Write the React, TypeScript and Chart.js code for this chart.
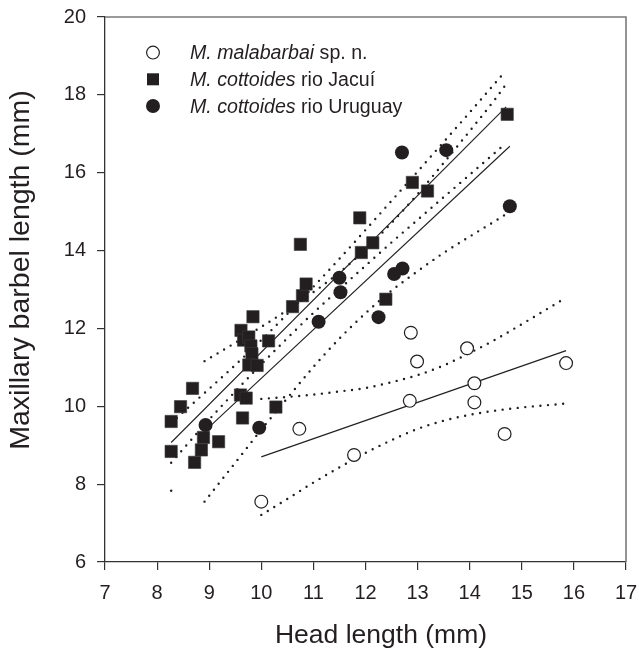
import React, { useEffect, useRef } from 'react';
import { Chart, registerables } from 'chart.js';

Chart.register(...registerables);

const FONT = "'Liberation Sans', Arial, Helvetica, sans-serif";
const INK = '#231f20';

// x axis: head length (mm), y axis: maxillary barbel length (mm)
const xMin = 7;
const xMax = 17;
const yMin = 6;
const yMax = 20;

// M. malabarbai sp. n. (open circles)
const malabarbaiX = [10.0, 10.73, 11.78, 12.87, 12.99, 12.85, 13.95, 14.09, 14.09, 14.67, 15.85];
const malabarbaiY = [7.55, 9.42, 8.75, 11.89, 11.15, 10.14, 11.49, 10.59, 10.1, 9.29, 11.11];

// M. cottoides rio Jacuí (filled squares)
const jacuiX = [
  8.27, 8.27, 8.45, 8.68, 8.72, 8.85, 8.89, 9.18, 9.6, 9.71, 9.64, 10.28, 9.61, 9.66, 9.76, 9.8,
  9.82, 9.76, 9.92, 9.84, 10.14, 10.6, 10.79, 10.86, 10.75, 11.89, 11.92, 12.14, 12.39, 12.9, 13.19, 14.72,
];
const jacuiY = [
  9.61, 8.84, 9.99, 10.46, 8.56, 8.88, 9.2, 9.09, 10.29, 10.21, 9.7, 9.98, 11.95, 11.7, 11.78, 11.55,
  11.35, 11.06, 11.05, 12.3, 11.68, 12.56, 12.84, 13.14, 14.16, 14.84, 13.95, 14.2, 12.75, 15.75, 15.53, 17.5,
];

// M. cottoides rio Uruguay (filled circles)
const uruguayX = [8.93, 9.96, 11.1, 11.5, 11.52, 12.25, 12.55, 12.71, 12.7, 13.55, 14.77];
const uruguayY = [9.52, 9.45, 12.17, 13.3, 12.93, 12.29, 13.4, 13.54, 16.52, 16.58, 15.14];

// fitted lines (solid)
const malFitX = [10.0, 15.85];
const malFitY = [8.7, 11.43];
const jacuiFitX = [8.27, 14.7];
const jacuiFitY = [9.07, 17.69];
const uruguayFitX = [8.93, 14.77];
const uruguayFitY = [9.38, 16.68];

// confidence bands (dotted)
const malBandX = [10.0, 10.5, 11.0, 11.5, 12.0, 12.5, 13.0, 13.5, 14.0, 14.5, 15.0, 15.5, 15.85];
const malUpperY = [10.19, 10.24, 10.3, 10.38, 10.47, 10.62, 10.8, 11.05, 11.37, 11.72, 12.11, 12.51, 12.79];
const malLowerY = [7.21, 7.62, 8.04, 8.43, 8.8, 9.13, 9.42, 9.63, 9.78, 9.89, 9.97, 10.03, 10.07];

const jacuiBandX = [8.27, 9.0, 9.5, 10.0, 10.5, 11.0, 11.5, 12.0, 12.5, 13.0, 13.5, 14.0, 14.68];
const jacuiUpperY = [9.57, 10.45, 11.06, 11.7, 12.37, 13.07, 13.79, 14.53, 15.28, 16.03, 16.79, 17.55, 18.6];
const jacuiLowerY = [8.55, 9.66, 10.38, 11.08, 11.75, 12.4, 13.01, 13.61, 14.21, 14.79, 15.37, 15.95, 16.74];

const uruguayBandX = [8.91, 9.5, 10.0, 10.5, 11.0, 11.5, 12.0, 12.5, 13.0, 13.5, 14.0, 14.5, 14.69];
const uruguayUpperY = [11.16, 11.63, 12.04, 12.47, 12.93, 13.44, 14.03, 14.71, 15.45, 16.25, 17.07, 17.91, 18.26];
const uruguayLowerY = [7.55, 8.55, 9.4, 10.21, 11.01, 11.74, 12.39, 12.97, 13.47, 13.94, 14.36, 14.77, 14.93];

const strayDotX = [8.27];
const strayDotY = [7.83];

// legend text
const legendItalic = ['M. malabarbai', 'M. cottoides', 'M. cottoides'];
const legendRest = [' sp. n.', ' rio Jacuí', ' rio Uruguay'];

const xTitle = 'Head length (mm)';
const yTitle = 'Maxillary barbel length (mm)';

const pts = (xs: number[], ys: number[]) => xs.map((x, i) => ({ x, y: ys[i] }));

const solid = (xs: number[], ys: number[]) => ({
  data: pts(xs, ys),
  showLine: true,
  pointRadius: 0,
  borderColor: INK,
  borderWidth: 1.1,
  order: 2,
});

const dotted = (xs: number[], ys: number[]) => ({
  data: pts(xs, ys),
  showLine: true,
  pointRadius: 0,
  borderColor: INK,
  borderWidth: 2.4,
  borderDash: [0, 7.6],
  borderCapStyle: 'round',
  cubicInterpolationMode: 'monotone',
  order: 2,
});

const decorPlugin = {
  id: 'decor',
  afterDraw(chart: any) {
    const { ctx, chartArea } = chart;
    ctx.save();
    // top and right frame
    ctx.strokeStyle = '#7a7a7a';
    ctx.lineWidth = 1.6;
    ctx.beginPath();
    ctx.moveTo(chartArea.left, chartArea.top);
    ctx.lineTo(chartArea.right, chartArea.top);
    ctx.lineTo(chartArea.right, chartArea.bottom);
    ctx.stroke();

    // legend
    for (let i = 0; i < 3; i++) {
      const cy = 52.6 + i * 26.7;
      const mx = 153;
      ctx.fillStyle = INK;
      ctx.strokeStyle = INK;
      ctx.lineWidth = 1.2;
      if (i === 0) {
        ctx.beginPath();
        ctx.arc(mx, cy, 6.4, 0, Math.PI * 2);
        ctx.fillStyle = '#fff';
        ctx.fill();
        ctx.stroke();
      } else if (i === 1) {
        ctx.fillRect(mx - 6, cy - 6, 12, 12);
      } else {
        ctx.beginPath();
        ctx.arc(mx, cy, 7, 0, Math.PI * 2);
        ctx.fill();
      }
      const base = cy + 6.5;
      ctx.fillStyle = INK;
      ctx.textBaseline = 'alphabetic';
      ctx.textAlign = 'left';
      ctx.font = `italic 19.6px ${FONT}`;
      ctx.fillText(legendItalic[i], 190, base);
      const w = ctx.measureText(legendItalic[i]).width;
      ctx.font = `19.6px ${FONT}`;
      ctx.fillText(legendRest[i], 190 + w, base);
    }

    // axis titles
    ctx.fillStyle = INK;
    ctx.font = `26.5px ${FONT}`;
    ctx.textAlign = 'center';
    ctx.textBaseline = 'alphabetic';
    ctx.fillText(xTitle, 381, 643);

    ctx.save();
    ctx.translate(29, 270);
    ctx.rotate(-Math.PI / 2);
    ctx.font = `28.5px ${FONT}`;
    ctx.fillText(yTitle, 0, 0);
    ctx.restore();

    ctx.restore();
  },
};

export default function App() {
  const ref = useRef<HTMLCanvasElement | null>(null);

  useEffect(() => {
    document.body.style.margin = '0';
    const canvas = ref.current;
    if (!canvas) return;

    const chart = new Chart(canvas, {
      type: 'scatter',
      data: {
        datasets: [
          {
            data: pts(uruguayX, uruguayY),
            pointStyle: 'circle',
            pointRadius: 7,
            backgroundColor: INK,
            borderColor: INK,
            borderWidth: 0,
            order: 0,
          },
          {
            data: pts(jacuiX, jacuiY),
            pointStyle: 'rect',
            pointRadius: 8.7,
            backgroundColor: INK,
            borderColor: '#3a3a3a',
            borderWidth: 0.6,
            order: 0,
          },
          {
            data: pts(malabarbaiX, malabarbaiY),
            pointStyle: 'circle',
            pointRadius: 6.4,
            backgroundColor: '#ffffff',
            borderColor: INK,
            borderWidth: 1.2,
            order: 0,
          },
          solid(malFitX, malFitY),
          solid(jacuiFitX, jacuiFitY),
          solid(uruguayFitX, uruguayFitY),
          dotted(malBandX, malUpperY),
          dotted(malBandX, malLowerY),
          dotted(jacuiBandX, jacuiUpperY),
          dotted(jacuiBandX, jacuiLowerY),
          dotted(uruguayBandX, uruguayUpperY),
          dotted(uruguayBandX, uruguayLowerY),
          {
            data: pts(strayDotX, strayDotY),
            pointStyle: 'circle',
            pointRadius: 1.2,
            backgroundColor: INK,
            borderWidth: 0,
            order: 2,
          },
        ] as any,
      },
      options: {
        animation: false,
        responsive: false,
        devicePixelRatio: 1,
        layout: { padding: { top: 17, right: 13, left: 0, bottom: 0 } },
        plugins: {
          legend: { display: false },
          tooltip: { enabled: false },
        },
        scales: {
          x: {
            type: 'linear',
            min: xMin,
            max: xMax,
            ticks: {
              stepSize: 1,
              color: INK,
              font: { family: FONT, size: 20 },
              padding: 11,
              maxRotation: 0,
            },
            grid: {
              drawOnChartArea: false,
              drawTicks: true,
              tickLength: 8,
              color: '#333',
              lineWidth: 1.2,
            },
            border: { color: '#333', width: 1.3 },
            afterFit: (s: any) => {
              s.height = 92;
              s.paddingLeft = 0;
              s.paddingRight = 0;
            },
          },
          y: {
            type: 'linear',
            min: yMin,
            max: yMax,
            ticks: {
              stepSize: 2,
              color: INK,
              font: { family: FONT, size: 20 },
              padding: 11,
            },
            grid: {
              drawOnChartArea: false,
              drawTicks: true,
              tickLength: 8,
              color: '#333',
              lineWidth: 1.2,
            },
            border: { color: '#333', width: 1.3 },
            afterFit: (s: any) => {
              s.width = 105;
              s.paddingTop = 0;
              s.paddingBottom = 0;
            },
          },
        },
      } as any,
      plugins: [decorPlugin],
    });

    return () => chart.destroy();
  }, []);

  return (
    <div style={{ width: 639, height: 654 }}>
      <canvas ref={ref} width={639} height={654} style={{ display: 'block' }} />
    </div>
  );
}
